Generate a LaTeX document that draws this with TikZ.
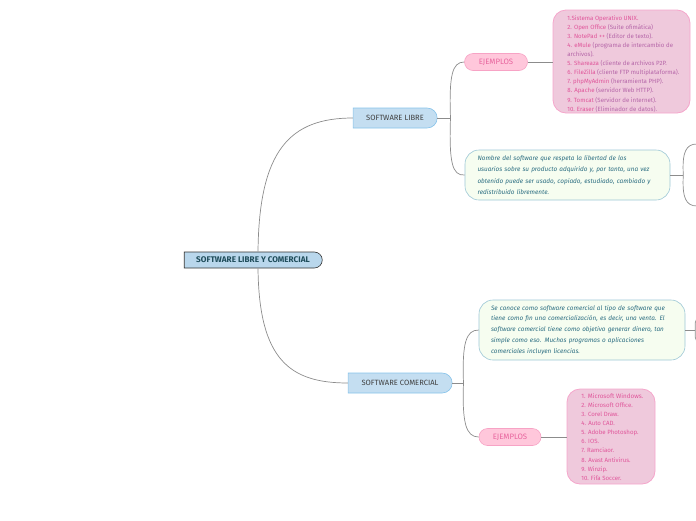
\documentclass[tikz,border=0pt]{standalone}
\usepackage{fontspec}
\setmainfont{Fira Sans}
\usetikzlibrary{shapes.misc}

\definecolor{lien}{HTML}{8C8C8C}
\definecolor{bleucentre}{HTML}{B9D7EC}
\definecolor{bleutheme}{HTML}{C4DEF1}
\definecolor{bordtheme}{HTML}{86C3EA}
\definecolor{roseex}{HTML}{FFC7DB}
\definecolor{bordex}{HTML}{F7A3C5}
\definecolor{texteex}{HTML}{E8659E}
\definecolor{roseliste}{HTML}{EFC9DC}
\definecolor{bordliste}{HTML}{F5A6CB}
\definecolor{nomliste}{HTML}{E0559A}
\definecolor{violetliste}{HTML}{B565A8}
\definecolor{vertdesc}{HTML}{F6FDF0}
\definecolor{borddesc}{HTML}{9CC7D6}
\definecolor{textedesc}{HTML}{2C6E82}

\tikzset{
  centre/.style={rounded rectangle, rounded rectangle left arc=none, draw=black!80, fill=bleucentre,
    line width=0.6pt, minimum width=138pt, minimum height=16pt, inner sep=0pt,
    font=\bfseries\fontsize{8.2}{9}\selectfont, text=textedesc!70!black},
  theme/.style={rounded rectangle, rounded rectangle left arc=none, draw=bordtheme, fill=bleutheme,
    line width=0.6pt, minimum height=20pt, inner sep=0pt, font=\fontsize{7.6}{9}\selectfont, text=black!75},
  exemple/.style={rounded rectangle, draw=bordex, fill=roseex, line width=0.6pt,
    minimum height=17pt, inner sep=0pt, font=\fontsize{7.8}{9}\selectfont, text=texteex},
  liste/.style={draw=bordliste, fill=roseliste, line width=0.8pt, rounded corners=13pt,
    align=left, anchor=north west, inner sep=0pt, font=\fontsize{6.1}{9.1}\selectfont, text=nomliste},
  desc/.style={draw=borddesc, fill=vertdesc, line width=0.6pt, rounded corners=14pt,
    align=left, inner sep=0pt, font=\itshape\fontsize{6.4}{11.2}\selectfont, text=textedesc},
  lien/.style={draw=lien, line width=0.7pt}
}

\begin{document}
\begin{tikzpicture}[x=1pt, y=-1pt]
  \useasboundingbox (0,0) rectangle (696,520);

  % Noeud central
  \node[centre] (central) at (253,260) {SOFTWARE LIBRE Y COMERCIAL};

  % Branches principales
  \node[theme, minimum width=84pt] (libre) at (395,118) {SOFTWARE LIBRE};
  \node[theme, minimum width=104pt] (comercial) at (400,383) {SOFTWARE COMERCIAL};

  \draw[lien] (central.north) ++(5,0) coordinate (c1) .. controls (259,150) and (290,118) .. (libre.west);
  \draw[lien] (central.south) ++(5,0) coordinate (c2) .. controls (259,360) and (290,383) .. (comercial.west);

  % Software libre
  \node[exemple, minimum width=63pt] (exlibre) at (496,62) {EJEMPLOS};
  \draw[liste] (553,10) rectangle (690,113);
  \node[liste, draw=none, fill=none] (listelibre) at (567,15) {%
    1.Sistema Operativo UNIX.\\
    2. Open Office {\color{violetliste}(Suite ofimática)}\\
    3. NotePad ++ {\color{violetliste}(Editor de texto).}\\
    4. eMule {\color{violetliste}(programa de intercambio de}\\
    {\color{violetliste}archivos).}\\
    5. Shareaza {\color{violetliste}(cliente de archivos P2P.}\\
    6. FileZilla {\color{violetliste}(cliente FTP multiplataforma).}\\
    7. phpMyAdmin {\color{violetliste}(herramienta PHP).}\\
    8. Apache {\color{violetliste}(servidor Web HTTP).}\\
    9. Tomcat {\color{violetliste}(Servidor de internet).}\\
    10. Eraser {\color{violetliste}(Eliminador de datos).}};
  \coordinate (boitelibre) at (553,62);

  \node[desc, minimum width=205pt, minimum height=50pt, text width=180pt] (desclibre) at (567.5,175) {%
    Nombre del software que respeta la libertad de los\\
    usuarios sobre su producto adquirido y, por tanto, una vez\\
    obtenido puede ser usado, copiado, estudiado, cambiado y\\
    redistribuido libremente.};

  \draw[lien] (libre.east) -- ++(13,0) coordinate (b1);
  \draw[lien] (b1) .. controls (449,76) and (452,62) .. (exlibre.west);
  \draw[lien] (b1) .. controls (449,162) and (452,176) .. (desclibre.west);
  \draw[lien] (exlibre.east) -- (boitelibre);

  \draw[lien] (desclibre.east) -- ++(13,0) coordinate (b2);
  \coordinate (hautlibre) at (697,144);
  \coordinate (baslibre) at (697,206);
  \draw[lien] (b2) .. controls (682,152) and (686,144) .. (hautlibre);
  \draw[lien] (b2) .. controls (682,198) and (686,206) .. (baslibre);

  % Software comercial
  \node[desc, minimum width=206pt, minimum height=60pt, text width=182pt] (desccomercial) at (582,330) {%
    \fontsize{6.4}{10.6}\selectfont
    Se conoce como software comercial al tipo de software que\\
    tiene como fin una comercialización, es decir, una venta. El\\
    software comercial tiene como objetivo generar dinero, tan\\
    simple como eso. Muchos programas o aplicaciones\\
    comerciales incluyen licencias.};

  \node[exemple, minimum width=62pt] (excomercial) at (510,437) {EJEMPLOS};
  \draw[liste] (567,389) rectangle (655,484);
  \node[liste, draw=none, fill=none] (listecomercial) at (581,393) {%
    \fontsize{6.3}{8.9}\selectfont
    1. Microsoft Windows.\\
    2. Microsoft Office.\\
    3. Corel Draw.\\
    4. Auto CAD.\\
    5. Adobe Photoshop.\\
    6. IOS.\\
    7. Ramciaor.\\
    8. Avast Antivirus.\\
    9. Winzip.\\
    10. Fifa Soccer.};
  \coordinate (boitecomercial) at (567,437);

  \draw[lien] (comercial.east) -- ++(11,0) coordinate (b3);
  \draw[lien] (b3) .. controls (462,343) and (466,330) .. (desccomercial.west);
  \draw[lien] (b3) .. controls (462,423) and (466,437) .. (excomercial.west);
  \draw[lien] (excomercial.east) -- (boitecomercial);

  \draw[lien] (desccomercial.east) -- ++(10,0) coordinate (b4);
  \coordinate (hautcomercial) at (697,318);
  \coordinate (bascomercial) at (697,342);
  \draw[lien] (b4) .. controls (695,322) .. (hautcomercial);
  \draw[lien] (b4) .. controls (695,338) .. (bascomercial);
\end{tikzpicture}
\end{document}
